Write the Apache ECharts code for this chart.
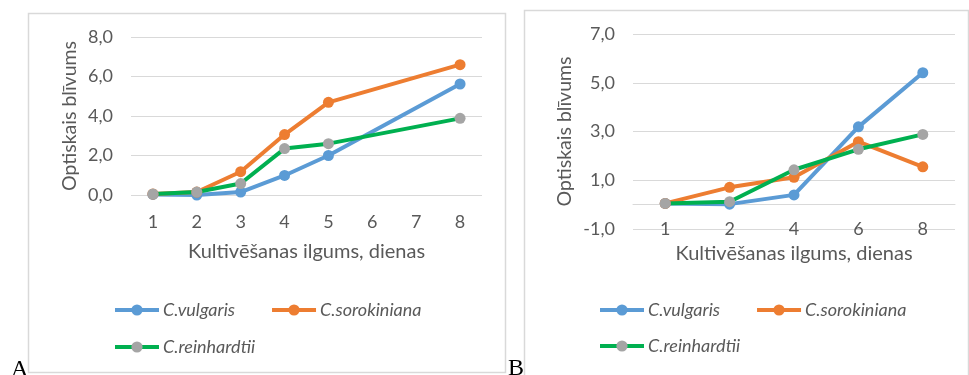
<!DOCTYPE html>
<html>
<head>
<meta charset="utf-8">
<script src="https://cdn.jsdelivr.net/npm/echarts@6/dist/echarts.min.js"></script>
<style>
html,body{margin:0;padding:0;background:#fff;}
#c{width:969px;height:375px;}
</style>
</head>
<body>
<div id="c"></div>
<script>
// ---- Data ----
const seriesNames = ['C.vulgaris', 'C.sorokiniana', 'C.reinhardtii'];

// Chart A
const daysA = ['1', '2', '3', '4', '5', '6', '7', '8'];
const vulgarisA     = [0.03, 0.0, 0.15, 0.99, 2.0, null, null, 5.62];
const sorokinianaA  = [0.05, 0.15, 1.18, 3.06, 4.69, null, null, 6.6];
const reinhardtiiA  = [0.05, 0.15, 0.58, 2.35, 2.6, null, null, 3.88];

// Chart B
const daysB = ['1', '2', '4', '6', '8'];
const vulgarisB     = [0.05, 0.02, 0.4, 3.19, 5.41];
const sorokinianaB  = [0.05, 0.71, 1.12, 2.58, 1.55];
const reinhardtiiB  = [0.05, 0.12, 1.43, 2.27, 2.88];

const yTitle = 'Optiskais blīvums';
const xTitle = 'Kultivēšanas ilgums, dienas';

// ---- Styles ----
const FONT = 'Lato';
const TXT = '#595959';
const GRID = '#d9d9d9';
const colors = {
  'C.vulgaris':   {line: '#5B9BD5', marker: '#5B9BD5'},
  'C.sorokiniana':{line: '#ED7D31', marker: '#ED7D31'},
  'C.reinhardtii':{line: '#00B050', marker: '#A5A5A5'}
};
const fmt = v => v.toFixed(1).replace('.', ',');

function mkSeries(name, data, idx) {
  return {
    name: name, type: 'line', xAxisIndex: idx, yAxisIndex: idx,
    data: data, connectNulls: true,
    symbol: 'circle', symbolSize: 11,
    lineStyle: {color: colors[name].line, width: 4},
    itemStyle: {color: colors[name].marker, borderWidth: 0},
    emphasis: {disabled: true},
    animation: false
  };
}

function mkX(idx, data) {
  return {
    type: 'category', gridIndex: idx, data: data,
    axisLine: {show: false, onZero: false}, axisTick: {show: false},
    axisLabel: {color: TXT, fontFamily: FONT, fontSize: 18, margin: idx === 0 ? 18 : -9},
    name: xTitle, nameLocation: 'middle', nameGap: idx === 0 ? 47 : 15,
    nameMoveOverlap: false,
    nameTextStyle: {color: TXT, fontFamily: FONT, fontSize: 20}
  };
}
function mkY(idx, min, max, interval) {
  return {
    type: 'value', gridIndex: idx, min: min, max: max, interval: interval,
    axisLine: {show: false}, axisTick: {show: false},
    splitLine: {lineStyle: {color: GRID, width: 1}},
    axisLabel: {color: TXT, fontFamily: FONT, fontSize: 18, margin: 18, formatter: fmt},
    name: yTitle, nameLocation: 'middle', nameGap: idx === 0 ? 51 : 58, nameRotate: 90,
    nameMoveOverlap: false,
    nameTextStyle: {color: TXT, fontFamily: FONT, fontSize: 19.5}
  };
}

const legendBase = {
  itemWidth: 44, itemHeight: 14, itemGap: 35, padding: 0,
  lineStyle: {width: 4},
  textStyle: {color: TXT, fontFamily: FONT, fontSize: 18, fontStyle: 'italic', padding: [0,0,0,-1]},
  selectedMode: false, orient: 'horizontal'
};

const chart = echarts.init(document.getElementById('c'), null, {renderer: 'canvas'});
chart.setOption({
  animation: false,
  backgroundColor: '#fff',
  grid: [
    {left: 131, top: 37, width: 351, height: 158},
    {left: 633, top: 34, width: 322, height: 195}
  ],
  xAxis: [
    mkX(0, daysA),
    mkX(1, daysB),
    {type: 'category', gridIndex: 1, data: daysB, position: 'bottom',
     axisLine: {show: true, onZero: true, lineStyle: {color: GRID, width: 1}},
     axisTick: {show: false}, axisLabel: {show: false}}
  ],
  yAxis: [mkY(0, 0, 8, 2), mkY(1, -1, 7, 2)],
  legend: [
    Object.assign({}, legendBase, {left: 113, top: 301, data: ['C.vulgaris', 'C.sorokiniana']}),
    Object.assign({}, legendBase, {left: 113, top: 338, data: ['C.reinhardtii']}),
    Object.assign({}, legendBase, {left: 598, top: 301, data: ['C.vulgaris', 'C.sorokiniana']}),
    Object.assign({}, legendBase, {left: 598, top: 337, data: ['C.reinhardtii']})
  ],
  graphic: [
    {type: 'rect', shape: {x: 28.5, y: 13.5, width: 477, height: 359}, style: {fill: 'none', stroke: GRID, lineWidth: 1.5}, z: -1},
    {type: 'rect', shape: {x: 524.5, y: 10.5, width: 444, height: 366}, style: {fill: 'none', stroke: GRID, lineWidth: 1.5}, z: -1},
    {type: 'text', left: 11, top: 358, style: {text: 'A', fontFamily: 'Liberation Serif', fontSize: 24, fill: '#000'}},
    {type: 'text', left: 508, top: 357, style: {text: 'B', fontFamily: 'Liberation Serif', fontSize: 24, fill: '#000'}}
  ],
  series: [
    mkSeries('C.vulgaris', vulgarisA, 0),
    mkSeries('C.sorokiniana', sorokinianaA, 0),
    mkSeries('C.reinhardtii', reinhardtiiA, 0),
    mkSeries('C.vulgaris', vulgarisB, 1),
    mkSeries('C.sorokiniana', sorokinianaB, 1),
    mkSeries('C.reinhardtii', reinhardtiiB, 1)
  ]
});
</script>
</body>
</html>
